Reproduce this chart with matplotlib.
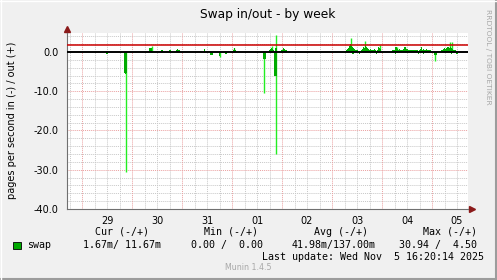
import matplotlib
matplotlib.use("Agg")
import matplotlib.pyplot as plt
from matplotlib.patches import Rectangle
from matplotlib.lines import Line2D

plt.rcParams['axes.unicode_minus'] = False

W, H = 497, 280

# hours since Oct 29 00:00, 30 minute bins
in_avg_t = [12.0, 20.5, 21.0, 21.5, 61.5, 62.0, 62.5, 66.0, 69.0, 69.5,
            87.0, 87.5, 88.0, 92.5, 93.0, 93.5, 130.0, 130.5, 133.0, 141.5,
            150.5, 161.5, 164.0, 169.0, 169.5, 170.0, 177.5, 180.0]
in_avg_v = [-0.4, -5.4, -5.5, -5.3, -0.8, -0.8, -0.7, -1.1, -0.4, -0.4,
            -1.9, -1.9, -1.8, -6.1, -6.1, -6.0, -0.4, -0.4, -0.6, -0.6,
            -0.4, -0.5, -0.6, -0.8, -0.8, -0.7, -0.5, -0.5]

in_max_t = [21.0, 66.0, 87.5, 93.0, 169.5]
in_max_v = [-30.6, -1.4, -10.5, -26.0, -2.2]

out_avg_t = [32.5, 33.0, 33.5, 38.0, 38.5, 42.0, 42.5, 45.5, 46.0, 46.5, 47.0,
             57.0, 57.5, 59.0, 70.5, 72.5, 73.0, 73.5,
             90.0, 90.5, 91.0, 91.5, 92.0, 93.0, 93.5,
             96.0, 96.5, 97.0, 97.5, 98.0,
             126.5, 127.0, 127.5, 128.0, 128.5, 129.0, 129.5, 130.0, 130.5, 131.0, 131.5, 132.0,
             134.0, 134.5, 135.0, 135.5, 136.0, 136.5, 137.0,
             137.5, 138.0, 138.5, 139.0, 139.5, 140.0, 140.5, 141.0, 142.0, 142.5, 143.0, 143.5,
             148.5, 149.0, 149.5, 150.0, 150.5, 151.0, 151.5, 152.0, 152.5, 153.0, 153.5,
             154.0, 154.5, 155.0, 155.5, 156.0,
             156.5, 157.0, 157.5, 158.0, 158.5, 159.0, 159.5, 160.0, 160.5, 161.0, 161.5,
             162.0, 162.5, 163.0,
             163.5, 164.0, 164.5, 165.0, 165.5, 166.0, 166.5, 167.0, 167.5, 168.0,
             170.5, 171.0, 171.5,
             172.5, 173.0, 173.5, 174.0, 174.5, 175.0, 175.5, 176.0, 176.5, 177.0, 177.5,
             178.0, 178.5, 179.0, 179.5]
out_avg_v = [0.9, 1.0, 0.9, 0.6, 0.6, 0.5, 0.5, 0.6, 0.7, 0.6, 0.5,
             0.3, 0.3, 0.7, 0.3, 0.5, 1.0, 0.5,
             0.5, 0.8, 1.0, 0.8, 0.6, 1.0, 1.0,
             0.5, 0.9, 0.7, 0.6, 0.5,
             0.3, 0.5, 0.7, 0.9, 1.5, 2.0, 1.6, 1.2, 1.0, 0.8, 0.6, 0.5,
             0.6, 0.8, 1.2, 1.0, 1.5, 1.3, 0.9,
             0.7, 0.6, 0.8, 0.5, 0.6, 0.5, 0.7, 0.5, 0.6, 1.2, 1.0, 0.7,
             0.3, 0.4, 0.5, 0.6, 1.2, 1.3, 0.8, 0.6, 0.7, 0.6, 0.5,
             0.6, 0.8, 1.2, 1.3, 0.7,
             0.5, 0.5, 0.6, 0.5, 0.4, 0.5, 0.4, 0.6, 0.5, 0.4, 0.3,
             0.5, 0.8, 1.3,
             0.6, 0.7, 0.5, 0.6, 0.8, 0.5, 0.6, 0.5, 0.4, 0.3,
             0.3, 0.3, 0.2,
             0.4, 0.6, 0.8, 1.0, 0.8, 0.9, 1.2, 1.3, 1.0, 1.3, 0.9,
             0.7, 0.6, 0.5, 0.4]

out_max_t = [33.5, 73.0, 91.0, 93.0, 129.0, 136.0, 143.0, 151.0, 155.0, 176.5, 177.5]
out_max_v = [1.5, 1.1, 1.6, 4.3, 3.6, 2.8, 1.9, 1.4, 1.4, 2.5, 2.5]

warn_level = 1.8

day_labels = ['29', '30', '31', '01', '02', '03', '04', '05']
y_major = [0, -10, -20, -30, -40]

legend_cols = ['Cur (-/+)', 'Min (-/+)', 'Avg (-/+)', 'Max (-/+)']
legend_vals = ['1.67m/ 11.67m', '0.00 /  0.00', '41.98m/137.00m', '30.94 /  4.50']


def fx(x):
    return x / W


def fy(y):
    return 1 - y / H


fig = plt.figure(figsize=(W / 100, H / 100), dpi=100, facecolor='#f0f0f0')
ax = fig.add_axes([fx(67), fy(209), (468 - 67) / W, (209 - 33) / H])
ax.set_facecolor('white')

x0, x1 = (67 - 82) * 0.48, (468 - 82) * 0.48
y0, y1 = -40, 4.84
ax.set_xlim(x0, x1)
ax.set_ylim(y0, y1)

dot = (0, (1, 1))
# minor grid
for h in range(-6, 186, 6):
    if h % 24:
        ax.axvline(h, color='#c8c8c8', lw=0.7, ls=dot, zorder=0)
for v in range(-38, 5, 2):
    if v % 10:
        ax.axhline(v, color='#c8c8c8', lw=0.7, ls=dot, zorder=0)
# major grid
for h in range(0, 186, 24):
    ax.axvline(h, color='#eaa0a0', lw=0.7, ls=dot, zorder=0.5)
for v in y_major[1:]:
    ax.axhline(v, color='#eaa0a0', lw=0.7, ls=dot, zorder=0.5)

# peaks drawn as thin bright lines, averages as darker blocks on top
ax.vlines(in_max_t, 0, in_max_v, color='#22ee22', lw=1.0, zorder=2)
ax.vlines(out_max_t, 0, out_max_v, color='#22ee22', lw=1.0, zorder=2)
ax.bar(in_avg_t, in_avg_v, width=0.5, color='#00aa00', lw=0, zorder=3, antialiased=False)
ax.bar(out_avg_t, out_avg_v, width=0.5, color='#00aa00', lw=0, zorder=3, antialiased=False)

ax.axhline(0, color='black', lw=1.4, zorder=4)
ax.axhline(warn_level, color='#cc0000', lw=1.1, zorder=4)

for s in ['top', 'right']:
    ax.spines[s].set_visible(False)
for s in ['left', 'bottom']:
    ax.spines[s].set_color('#707070')
    ax.spines[s].set_linewidth(0.8)

ax.set_xticks([12 + 24 * i for i in range(len(day_labels))])
ax.set_xticklabels(day_labels)
ax.set_yticks(y_major)
ax.set_yticklabels(['%.1f' % v for v in y_major])
ax.tick_params(length=0, labelsize=7, colors='black')
ax.tick_params(axis='x', pad=5)
ax.tick_params(axis='y', pad=6)

# axis arrows
ax.plot([0, 0], [1, 1.03], color='#707070', lw=0.8, transform=ax.transAxes, clip_on=False)
ax.plot([1, 1.012], [0, 0], color='#707070', lw=0.8, transform=ax.transAxes, clip_on=False)
ax.plot([0], [1.02], marker='^', ms=5, color='#8b1a1a', transform=ax.transAxes, clip_on=False)
ax.plot([1.01], [0], marker='>', ms=5, color='#8b1a1a', transform=ax.transAxes, clip_on=False)

fig.text(fx(267.5), fy(18), 'Swap in/out - by week', ha='center', va='baseline', fontsize=8.8)
fig.text(fx(12), fy(120), 'pages per second in (-) / out (+)', rotation=90,
         ha='center', va='center', fontsize=7)
fig.text(fx(488), fy(57), 'RRDTOOL / TOBI OETIKER', rotation=-90, ha='center', va='center',
         fontsize=5.4, color='#a8a8a8')

mono = 'DejaVu Sans Mono'
for xpos, txt in zip([95, 204, 314, 423], legend_cols):
    fig.text(fx(xpos), fy(232), txt, family=mono, fontsize=7.2, va='center')
fig.patches.append(Rectangle((fx(13), fy(249)), 8 / W, 7 / H, transform=fig.transFigure,
                             facecolor='#00aa00', edgecolor='black', lw=0.6))
fig.text(fx(27), fy(245), 'swap', family=mono, fontsize=7.2, va='center')
for xpos, txt in zip([83, 191, 292, 399], legend_vals):
    fig.text(fx(xpos), fy(245), txt, family=mono, fontsize=7.2, va='center')
fig.text(fx(262), fy(257), 'Last update: Wed Nov  5 16:20:14 2025', family=mono,
         fontsize=7.2, va='center')
fig.text(fx(248.5), fy(268), 'Munin 1.4.5', ha='center', va='center', fontsize=5.7,
         color='#a8a8a8')

# frame
fig.add_artist(Line2D([fx(0), fx(497)], [fy(278.5), fy(278.5)], color='#9c9c9c', lw=1.5))
fig.add_artist(Line2D([fx(495.5), fx(495.5)], [fy(0), fy(280)], color='#9c9c9c', lw=1.5))
fig.add_artist(Line2D([fx(0), fx(497)], [fy(0.5), fy(0.5)], color='#ffffff', lw=1))
fig.add_artist(Line2D([fx(0.5), fx(0.5)], [fy(0), fy(280)], color='#ffffff', lw=1))

fig.savefig('out.png', dpi=100, facecolor=fig.get_facecolor())
